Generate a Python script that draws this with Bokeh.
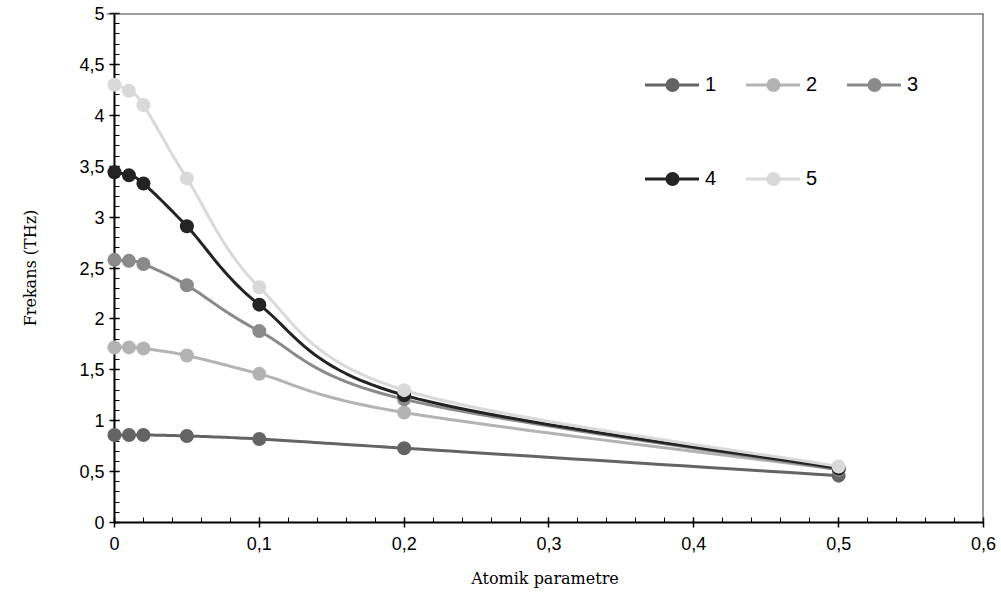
import numpy as np
from bokeh.plotting import figure
from bokeh.models import FixedTicker, Legend, LegendItem, Span
from bokeh.embed import file_html
from bokeh.resources import INLINE

# ---- data ----
x_vals = [0, 0.01, 0.02, 0.05, 0.1, 0.2, 0.5]
s1 = [0.86, 0.86, 0.86, 0.85, 0.82, 0.73, 0.46]
s2 = [1.72, 1.72, 1.71, 1.64, 1.46, 1.08, 0.52]
s3 = [2.58, 2.57, 2.54, 2.33, 1.88, 1.21, 0.52]
s4 = [3.44, 3.41, 3.33, 2.91, 2.14, 1.25, 0.53]
s5 = [4.30, 4.24, 4.10, 3.38, 2.31, 1.30, 0.55]
series_names = ["1", "2", "3", "4", "5"]
series_vals = [s1, s2, s3, s4, s5]
colors = ["#646464", "#b3b3b3", "#8a8a8a", "#232323", "#d9d9d9"]

x_ticks = [0, 0.1, 0.2, 0.3, 0.4, 0.5, 0.6]
x_tick_labels = ["0", "0,1", "0,2", "0,3", "0,4", "0,5", "0,6"]
y_ticks = [0, 0.5, 1, 1.5, 2, 2.5, 3, 3.5, 4, 4.5, 5]
y_tick_labels = ["0", "0,5", "1", "1,5", "2", "2,5", "3", "3,5", "4", "4,5", "5"]
x_title = "Atomik parametre"
y_title = "Frekans (THz)"


def smooth(xs, ys, n=24):
    """Catmull-Rom (Excel-like) smoothing through the data points."""
    P = np.column_stack([xs, ys]).astype(float)
    m = len(P)
    out = []
    for i in range(m - 1):
        p0 = P[i - 1] if i > 0 else P[i]
        p1 = P[i]
        p2 = P[i + 1]
        p3 = P[i + 2] if i + 2 < m else P[i + 1]
        c1 = p1 + (p2 - p0) / 6.0
        c2 = p2 - (p3 - p1) / 6.0
        t = np.linspace(0, 1, n, endpoint=(i == m - 2))[:, None]
        b = ((1 - t) ** 3) * p1 + 3 * ((1 - t) ** 2) * t * c1 + 3 * (1 - t) * t ** 2 * c2 + t ** 3 * p2
        out.append(b)
    B = np.vstack(out)
    return B[:, 0], B[:, 1]


x0, x1 = x_ticks[0], x_ticks[-1]
y0, y1 = y_ticks[0], y_ticks[-1]
pad = 0.0055  # small room left of the y axis so markers at x=0 are not clipped

p = figure(width=998, height=595, x_range=(x0 - pad, x1), y_range=(y0, y1),
           output_backend="svg", toolbar_location=None,
           min_border_left=106, min_border_right=15, min_border_top=13, min_border_bottom=73)
p.grid.visible = False
p.outline_line_color = None
p.background_fill_color = "white"
p.border_fill_color = "white"

p.xaxis.ticker = FixedTicker(ticks=x_ticks, minor_ticks=list(np.round(np.arange(0, 0.6001, 0.02), 4)))
p.yaxis.ticker = FixedTicker(ticks=y_ticks, minor_ticks=list(np.round(np.arange(0, 5.0001, 0.1), 4)))
p.xaxis.major_label_overrides = dict(zip(x_ticks, x_tick_labels))
p.yaxis.major_label_overrides = dict(zip(y_ticks, y_tick_labels))
p.xaxis.bounds = (x0, x1)

for ax in (p.xaxis, p.yaxis):
    ax.axis_line_color = "black"
    ax.axis_line_width = 2
    ax.major_tick_line_color = "black"
    ax.major_tick_line_width = 1.5
    ax.minor_tick_line_color = "black"
    ax.minor_tick_line_width = 1
    ax.major_tick_in = 5
    ax.major_tick_out = 5
    ax.minor_tick_in = 5
    ax.minor_tick_out = 0
    ax.major_label_text_font = "Liberation Sans"
    ax.major_label_text_font_size = "18px"
    ax.major_label_text_color = "black"
    ax.axis_label_text_font = "DejaVu Serif"
    ax.axis_label_text_font_size = "16px"
    ax.axis_label_text_font_style = "normal"
    ax.axis_label_text_color = "black"

# y axis sits at the frame edge (8px left of x=0): shift its ticks to x=0
p.yaxis.axis_line_color = None
p.yaxis.major_tick_out = -3
p.yaxis.major_tick_in = 13
p.yaxis.minor_tick_out = -8
p.yaxis.minor_tick_in = 13

p.xaxis.axis_label = x_title
p.yaxis.axis_label = y_title
p.xaxis.major_label_standoff = 9
p.yaxis.major_label_standoff = 5
p.xaxis.axis_label_standoff = 16
p.yaxis.axis_label_standoff = 36

# y axis line at x=0, plus top and right frame lines
p.add_layout(Span(location=x0, dimension="height", line_color="black", line_width=2))
p.add_layout(Span(location=y1, dimension="width", line_color="#404040", line_width=2))
p.add_layout(Span(location=x1, dimension="height", line_color="#303030", line_width=2))

items = []
for name, ys, c in zip(series_names, series_vals, colors):
    sx, sy = smooth(x_vals, ys)
    lr = p.line(sx, sy, line_color=c, line_width=3, line_join="round", line_cap="round")
    sr = p.scatter(x_vals, ys, size=14, fill_color=c, line_color=c, line_width=0, level="overlay")
    items.append(LegendItem(label=name, renderers=[lr, sr]))

common = dict(orientation="horizontal", glyph_width=54, glyph_height=35,
              label_standoff=6, spacing=21, padding=0, margin=0,
              border_line_color=None, background_fill_alpha=0,
              label_text_font="Liberation Sans", label_text_font_size="20px",
              label_text_color="black", click_policy="none")
leg1 = Legend(items=items[:3], location=(539, 420), **common)
leg2 = Legend(items=items[3:], location=(539, 326), **common)
p.add_layout(leg1, "center")
p.add_layout(leg2, "center")

open("out.html", "w").write(file_html(p, INLINE))
